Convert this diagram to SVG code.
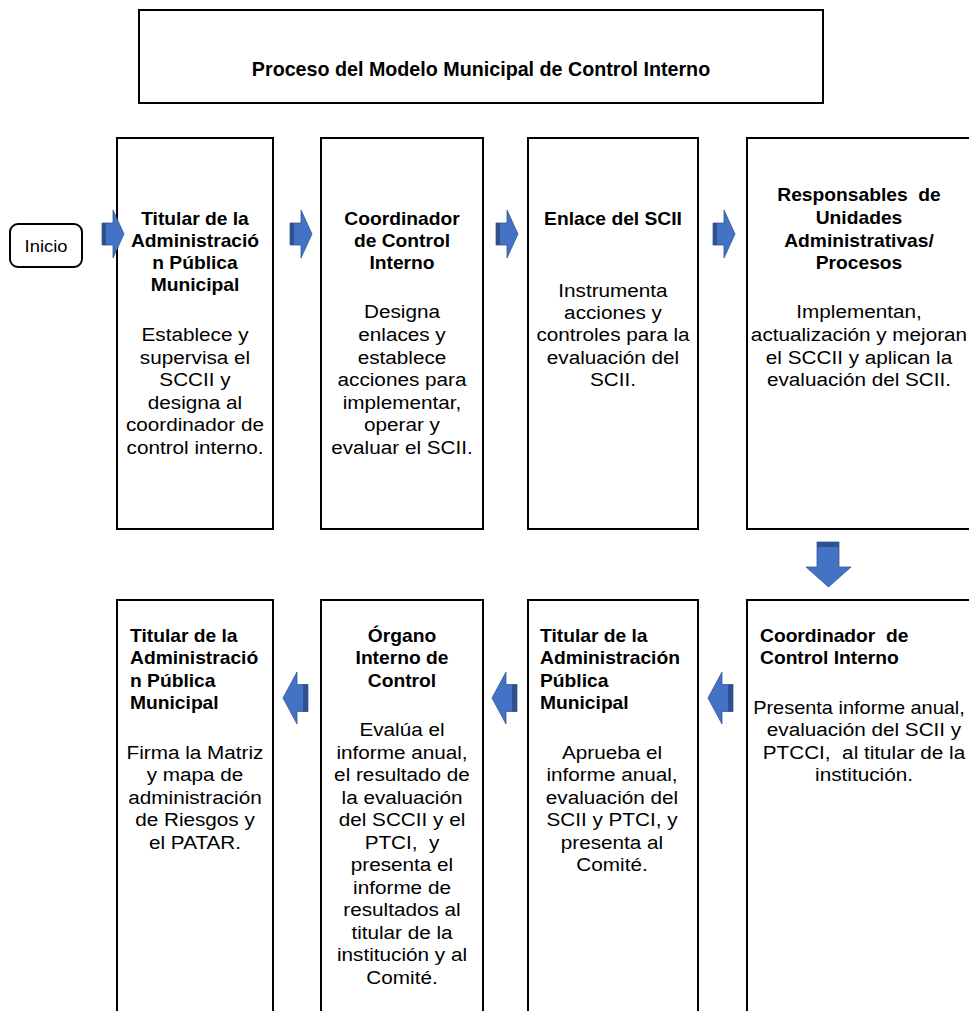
<svg xmlns="http://www.w3.org/2000/svg" width="969" height="1011" viewBox="0 0 969 1011">
<style>
.box{fill:#fff;stroke:#000;stroke-width:2}
.t{font-family:"Liberation Sans",Arial,sans-serif;fill:#000;white-space:pre}
.b{font-weight:bold;font-size:18.5px}
.n{font-size:19px}
.c{text-anchor:middle}
.title{font-family:"Liberation Sans",Arial,sans-serif;font-weight:bold;font-size:19.7px;text-anchor:middle;fill:#000}
.ar{fill:#4472C4;stroke:#2F528F;stroke-width:0.75}
.dk{fill:#2F528F}
</style>
<defs>
<g id="arrowR">
<polygon class="ar" points="0,-11 11,-11 11,-24 22,0 11,24 11,11 0,11"/>
<rect class="dk" x="0" y="-11" width="4" height="22"/>
</g>
<g id="arrowL">
<polygon class="ar" points="25,-13.5 14,-13.5 14,-26 0,0 14,26 14,13.5 25,13.5"/>
<rect class="dk" x="20" y="-13.5" width="5" height="27"/>
</g>
</defs>
<rect width="969" height="1011" fill="#fff"/>

<g id="title">
<rect class="box" x="139" y="10" width="684" height="93"/>
<text class="title" x="481" y="76">Proceso del Modelo Municipal de Control Interno</text>
</g>

<g id="inicio">
<rect class="box" x="10" y="224" width="72" height="43" rx="8" ry="8" stroke-width="1.5"/>
<g transform="translate(46,0) scale(1.08,1)"><text class="t c" x="0" y="252" font-size="17px">Inicio</text></g>
</g>

<g id="n1">
<rect class="box" x="117" y="138" width="156" height="391"/>
<g transform="translate(195,0) scale(1.04,1)">
<text class="t b c" x="0" y="225">Titular de la</text>
<text class="t b c" x="0" y="247">Administració</text>
<text class="t b c" x="0" y="269">n Pública</text>
<text class="t b c" x="0" y="291">Municipal</text>
</g>
<g transform="translate(195,0) scale(1.09,1)">
<text class="t n c" x="0" y="341">Establece y</text>
<text class="t n c" x="0" y="364">supervisa el</text>
<text class="t n c" x="0" y="386">SCCII y</text>
<text class="t n c" x="0" y="409">designa al</text>
<text class="t n c" x="0" y="431">coordinador de</text>
<text class="t n c" x="0" y="454">control interno.</text>
</g>
</g>

<g id="n2">
<rect class="box" x="321" y="138" width="162" height="391"/>
<g transform="translate(402,0) scale(1.04,1)">
<text class="t b c" x="0" y="225">Coordinador</text>
<text class="t b c" x="0" y="247">de Control</text>
<text class="t b c" x="0" y="269">Interno</text>
</g>
<g transform="translate(402,0) scale(1.09,1)">
<text class="t n c" x="0" y="318">Designa</text>
<text class="t n c" x="0" y="341">enlaces y</text>
<text class="t n c" x="0" y="364">establece</text>
<text class="t n c" x="0" y="386">acciones para</text>
<text class="t n c" x="0" y="409">implementar,</text>
<text class="t n c" x="0" y="431">operar y</text>
<text class="t n c" x="0" y="454">evaluar el SCII.</text>
</g>
</g>

<g id="n3">
<rect class="box" x="528" y="138" width="170" height="391"/>
<g transform="translate(613,0) scale(1.04,1)">
<text class="t b c" x="0" y="225">Enlace del SCII</text>
</g>
<g transform="translate(613,0) scale(1.09,1)">
<text class="t n c" x="0" y="297">Instrumenta</text>
<text class="t n c" x="0" y="319">acciones y</text>
<text class="t n c" x="0" y="341">controles para la</text>
<text class="t n c" x="0" y="364">evaluación del</text>
<text class="t n c" x="0" y="386">SCII.</text>
</g>
</g>

<g id="n4">
<rect class="box" x="747" y="138" width="240" height="391"/>
<g transform="translate(859,0) scale(1.04,1)">
<text class="t b c" x="0" y="201">Responsables  de</text>
<text class="t b c" x="0" y="224">Unidades</text>
<text class="t b c" x="0" y="247">Administrativas/</text>
<text class="t b c" x="0" y="269">Procesos</text>
</g>
<g transform="translate(859,0) scale(1.09,1)">
<text class="t n c" x="0" y="318">Implementan,</text>
<text class="t n c" x="0" y="341">actualización y mejoran</text>
<text class="t n c" x="0" y="364">el SCCII y aplican la</text>
<text class="t n c" x="0" y="386">evaluación del SCII.</text>
</g>
</g>

<g id="n5">
<rect class="box" x="747" y="600" width="240" height="430"/>
<g transform="translate(760,0) scale(1.04,1)">
<text class="t b" x="0" y="642">Coordinador  de</text>
<text class="t b" x="0" y="664">Control Interno</text>
</g>
<g transform="translate(859,0) scale(1.05,1)">
<text class="t n c" x="0" y="714">Presenta informe anual,</text>
</g>
<g transform="translate(864,0) scale(1.09,1)">
<text class="t n c" x="0" y="736">evaluación del SCII y</text>
<text class="t n c" x="0" y="759">PTCCI,  al titular de la</text>
<text class="t n c" x="0" y="781">institución.</text>
</g>
</g>

<g id="n6">
<rect class="box" x="528" y="600" width="170" height="430"/>
<g transform="translate(540,0) scale(1.04,1)">
<text class="t b" x="0" y="642">Titular de la</text>
<text class="t b" x="0" y="664">Administración</text>
<text class="t b" x="0" y="687">Pública</text>
<text class="t b" x="0" y="709">Municipal</text>
</g>
<g transform="translate(612,0) scale(1.09,1)">
<text class="t n c" x="0" y="759">Aprueba el</text>
<text class="t n c" x="0" y="781">informe anual,</text>
<text class="t n c" x="0" y="804">evaluación del</text>
<text class="t n c" x="0" y="826">SCII y PTCI, y</text>
<text class="t n c" x="0" y="849">presenta al</text>
<text class="t n c" x="0" y="871">Comité.</text>
</g>
</g>

<g id="n7">
<rect class="box" x="321" y="600" width="162" height="430"/>
<g transform="translate(402,0) scale(1.04,1)">
<text class="t b c" x="0" y="642">Órgano</text>
<text class="t b c" x="0" y="664">Interno de</text>
<text class="t b c" x="0" y="687">Control</text>
</g>
<g transform="translate(402,0) scale(1.09,1)">
<text class="t n c" x="0" y="736">Evalúa el</text>
<text class="t n c" x="0" y="759">informe anual,</text>
<text class="t n c" x="0" y="781">el resultado de</text>
<text class="t n c" x="0" y="804">la evaluación</text>
<text class="t n c" x="0" y="826">del SCCII y el</text>
<text class="t n c" x="0" y="849">PTCI,  y</text>
<text class="t n c" x="0" y="871">presenta el</text>
<text class="t n c" x="0" y="894">informe de</text>
<text class="t n c" x="0" y="916">resultados al</text>
<text class="t n c" x="0" y="939">titular de la</text>
<text class="t n c" x="0" y="961">institución y al</text>
<text class="t n c" x="0" y="984">Comité.</text>
</g>
</g>

<g id="n8">
<rect class="box" x="117" y="600" width="156" height="430"/>
<g transform="translate(130,0) scale(1.04,1)">
<text class="t b" x="0" y="642">Titular de la</text>
<text class="t b" x="0" y="664">Administració</text>
<text class="t b" x="0" y="687">n Pública</text>
<text class="t b" x="0" y="709">Municipal</text>
</g>
<g transform="translate(195,0) scale(1.09,1)">
<text class="t n c" x="0" y="759">Firma la Matriz</text>
<text class="t n c" x="0" y="781">y mapa de</text>
<text class="t n c" x="0" y="804">administración</text>
<text class="t n c" x="0" y="826">de Riesgos y</text>
<text class="t n c" x="0" y="849">el PATAR.</text>
</g>
</g>

<g id="connectors">
<use href="#arrowR" x="102" y="234"/>
<use href="#arrowR" x="290" y="234"/>
<use href="#arrowR" x="496" y="234"/>
<use href="#arrowR" x="713" y="234"/>
<g id="down">
<polygon class="ar" points="817,542 839,542 839,567 851,567 828.5,587 806,567 817,567"/>
<rect class="dk" x="817" y="542" width="22" height="5"/>
</g>
<use href="#arrowL" x="708" y="698"/>
<use href="#arrowL" x="492" y="698"/>
<use href="#arrowL" x="283" y="698"/>
</g>
</svg>
